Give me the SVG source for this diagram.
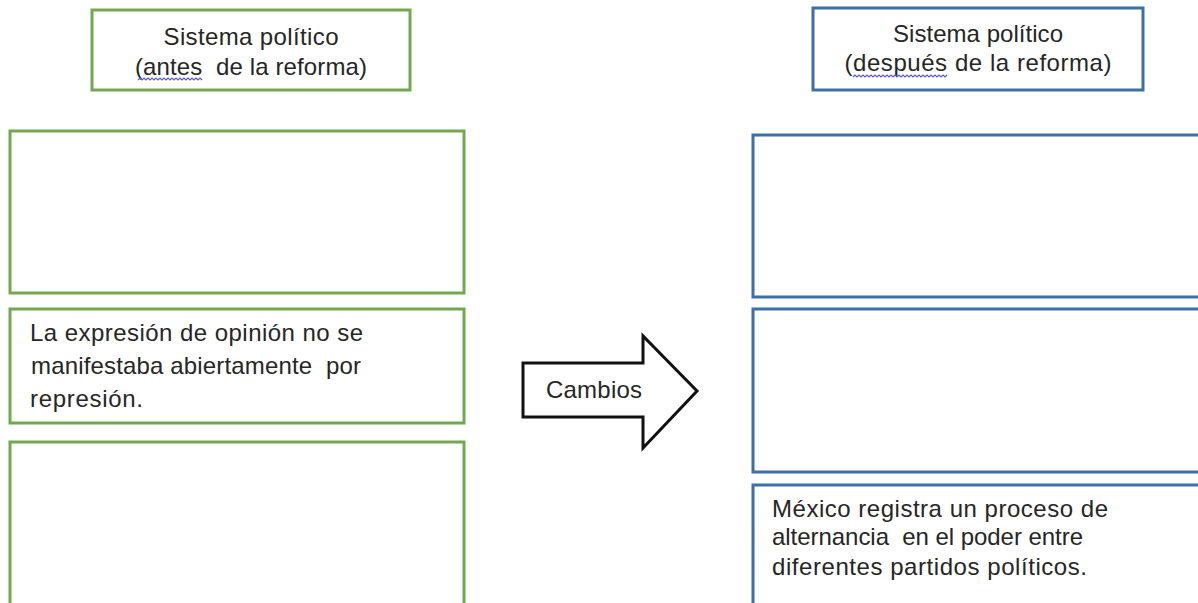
<svg xmlns="http://www.w3.org/2000/svg" width="1198" height="603" viewBox="0 0 1198 603">
  <style>
    .g { fill: #ffffff; stroke: #72a84f; stroke-width: 3; }
    .b { fill: #ffffff; stroke: #3d6fa8; stroke-width: 3; }
    .t { font-family: "Liberation Sans", Arial, sans-serif; fill: #262626; }
    .h { font-size: 24px; text-anchor: middle; }
    .p { font-size: 24px; }
    .wave { fill: none; stroke: #5a5ad0; stroke-width: 1.2; }
  </style>
  <rect x="0" y="0" width="1198" height="603" fill="#ffffff"/>

  <g id="header-antes">
    <rect class="g" x="92" y="10" width="318" height="80"/>
    <text class="t h" x="251" y="45" textLength="175" lengthAdjust="spacing">Sistema político</text>
    <text class="t h" x="251" y="75" textLength="232" lengthAdjust="spacing" xml:space="preserve">(antes  de la reforma)</text>
    <polyline class="wave" points="138,80 140,78 142,80 144,78 146,80 148,78 150,80 152,78 154,80 156,78 158,80 160,78 162,80 164,78 166,80 168,78 170,80 172,78 174,80 176,78 178,80 180,78 182,80 184,78 186,80 188,78 190,80 192,78 194,80 196,78 198,80 200,78 202,80"/>
  </g>

  <g id="header-despues">
    <rect class="b" x="813" y="8" width="330" height="82"/>
    <text class="t h" x="978" y="42" textLength="170" lengthAdjust="spacing">Sistema político</text>
    <text class="t h" x="978" y="71" textLength="267" lengthAdjust="spacing">(después de la reforma)</text>
    <polyline class="wave" points="853,77 855,75 857,77 859,75 861,77 863,75 865,77 867,75 869,77 871,75 873,77 875,75 877,77 879,75 881,77 883,75 885,77 887,75 889,77 891,75 893,77 895,75 897,77 899,75 901,77 903,75 905,77 907,75 909,77 911,75 913,77 915,75 917,77 919,75 921,77 923,75 925,77 927,75 929,77 931,75 933,77 935,75 937,77 939,75 941,77 943,75 945,77 947,75"/>
  </g>

  <g id="antes-1">
    <rect class="g" x="10" y="131" width="454" height="162"/>
  </g>

  <g id="antes-2">
    <rect class="g" x="10" y="309" width="454" height="114"/>
    <text class="t p" x="30" y="341" textLength="333" lengthAdjust="spacing">La expresión de opinión no se</text>
    <text class="t p" x="31" y="374" textLength="330" lengthAdjust="spacing" xml:space="preserve">manifestaba abiertamente  por</text>
    <text class="t p" x="30" y="407" textLength="113" lengthAdjust="spacing">represión.</text>
  </g>

  <g id="antes-3">
    <rect class="g" x="10" y="442" width="454" height="175"/>
  </g>

  <g id="despues-1">
    <rect class="b" x="753" y="135" width="460" height="162"/>
  </g>

  <g id="despues-2">
    <rect class="b" x="753" y="309" width="460" height="163"/>
  </g>

  <g id="despues-3">
    <rect class="b" x="753" y="485" width="460" height="130"/>
    <text class="t p" x="772" y="517" textLength="336" lengthAdjust="spacing">México registra un proceso de</text>
    <text class="t p" x="772" y="545" textLength="311" lengthAdjust="spacing" xml:space="preserve">alternancia  en el poder entre</text>
    <text class="t p" x="772" y="575" textLength="315" lengthAdjust="spacing">diferentes partidos políticos.</text>
  </g>

  <g id="connectors">
    <g id="arrow-cambios">
      <polygon points="523,363 643,363 643,336 697,391 643,448 643,417 523,417" fill="#ffffff" stroke="#111111" stroke-width="3" stroke-linejoin="miter"/>
      <text class="t" x="546" y="398" font-size="24" textLength="96" lengthAdjust="spacing">Cambios</text>
    </g>
  </g>
</svg>
